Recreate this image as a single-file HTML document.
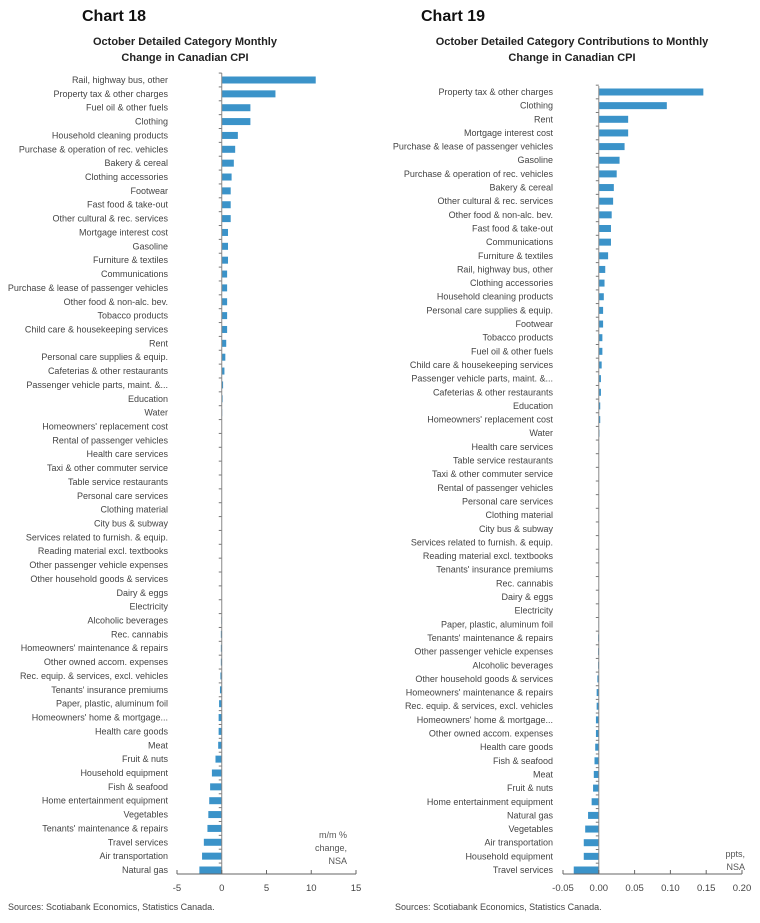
<!DOCTYPE html>
<html><head><meta charset="utf-8"><style>
html,body{margin:0;padding:0;background:#fff;}
svg{display:block;font-family:"Liberation Sans",sans-serif;}
</style></head><body>
<svg id="s" width="760" height="923" viewBox="0 0 760 923">
<text x="82" y="21" font-size="16" font-weight="bold" fill="#111">Chart 18</text>
<text x="185" y="45" font-size="11" font-weight="bold" text-anchor="middle" fill="#222">October Detailed Category Monthly</text>
<text x="185" y="61" font-size="11" font-weight="bold" text-anchor="middle" fill="#222">Change in Canadian CPI</text>
<text x="421" y="21" font-size="16" font-weight="bold" fill="#111">Chart 19</text>
<text x="572" y="45" font-size="11" font-weight="bold" text-anchor="middle" fill="#222">October Detailed Category Contributions to Monthly</text>
<text x="572" y="61" font-size="11" font-weight="bold" text-anchor="middle" fill="#222">Change in Canadian CPI</text>
<text x="347" y="838" font-size="9" text-anchor="end" fill="#555">m/m %</text>
<text x="347" y="851" font-size="9" text-anchor="end" fill="#555">change,</text>
<text x="347" y="864" font-size="9" text-anchor="end" fill="#555">NSA</text>
<text x="745" y="857" font-size="9" text-anchor="end" fill="#555">ppts,</text>
<text x="745" y="870" font-size="9" text-anchor="end" fill="#555">NSA</text>
<text x="8" y="910" font-size="9" fill="#444">Sources: Scotiabank Economics, Statistics Canada.</text>
<text x="395" y="910" font-size="9" fill="#444">Sources: Scotiabank Economics, Statistics Canada.</text>
</svg>
<script>
const cats18=["Rail, highway bus, other","Property tax & other charges","Fuel oil & other fuels","Clothing","Household cleaning products","Purchase & operation of rec. vehicles","Bakery & cereal","Clothing accessories","Footwear","Fast food & take-out","Other cultural & rec. services","Mortgage interest cost","Gasoline","Furniture & textiles","Communications","Purchase & lease of passenger vehicles","Other food & non-alc. bev.","Tobacco products","Child care & housekeeping services","Rent","Personal care supplies & equip.","Cafeterias & other restaurants","Passenger vehicle parts, maint. &...","Education","Water","Homeowners' replacement cost","Rental of passenger vehicles","Health care services","Taxi & other commuter service","Table service restaurants","Personal care services","Clothing material","City bus & subway","Services related to furnish. & equip.","Reading material excl. textbooks","Other passenger vehicle expenses","Other household goods & services","Dairy & eggs","Electricity","Alcoholic beverages","Rec. cannabis","Homeowners' maintenance & repairs","Other owned accom. expenses","Rec. equip. & services, excl. vehicles","Tenants' insurance premiums","Paper, plastic, aluminum foil","Homeowners' home & mortgage...","Health care goods","Meat","Fruit & nuts","Household equipment","Fish & seafood","Home entertainment equipment","Vegetables","Tenants' maintenance & repairs","Travel services","Air transportation","Natural gas"];
const vals18=[10.5,6.0,3.2,3.2,1.8,1.5,1.35,1.1,1.0,1.0,1.0,0.7,0.7,0.7,0.6,0.6,0.6,0.6,0.6,0.5,0.4,0.3,0.15,0.1,0.05,0.02,0.01,0.01,0.01,0.01,0,0,0,0,0,0,0,0,-0.02,-0.05,-0.1,-0.1,-0.1,-0.15,-0.2,-0.3,-0.35,-0.35,-0.4,-0.7,-1.1,-1.3,-1.4,-1.5,-1.6,-2.0,-2.2,-2.5];
const ticks18=[-5,0,5,10,15];
const cats19=["Property tax & other charges","Clothing","Rent","Mortgage interest cost","Purchase & lease of passenger vehicles","Gasoline","Purchase & operation of rec. vehicles","Bakery & cereal","Other cultural & rec. services","Other food & non-alc. bev.","Fast food & take-out","Communications","Furniture & textiles","Rail, highway bus, other","Clothing accessories","Household cleaning products","Personal care supplies & equip.","Footwear","Tobacco products","Fuel oil & other fuels","Child care & housekeeping services","Passenger vehicle parts, maint. &...","Cafeterias & other restaurants","Education","Homeowners' replacement cost","Water","Health care services","Table service restaurants","Taxi & other commuter service","Rental of passenger vehicles","Personal care services","Clothing material","City bus & subway","Services related to furnish. & equip.","Reading material excl. textbooks","Tenants' insurance premiums","Rec. cannabis","Dairy & eggs","Electricity","Paper, plastic, aluminum foil","Tenants' maintenance & repairs","Other passenger vehicle expenses","Alcoholic beverages","Other household goods & services","Homeowners' maintenance & repairs","Rec. equip. & services, excl. vehicles","Homeowners' home & mortgage...","Other owned accom. expenses","Health care goods","Fish & seafood","Meat","Fruit & nuts","Home entertainment equipment","Natural gas","Vegetables","Air transportation","Household equipment","Travel services"];
const vals19=[0.146,0.095,0.041,0.041,0.036,0.029,0.025,0.021,0.020,0.018,0.017,0.017,0.013,0.009,0.008,0.007,0.006,0.006,0.005,0.005,0.004,0.003,0.003,0.002,0.002,0.001,0.0005,0.0003,0.0002,0.0002,0.0001,0,0,0,0,0,0,0,0,-0.0005,-0.001,-0.001,-0.001,-0.002,-0.003,-0.003,-0.004,-0.004,-0.005,-0.006,-0.007,-0.008,-0.010,-0.015,-0.019,-0.021,-0.021,-0.035];
const ticks19=[-0.05,0,0.05,0.10,0.15,0.20];
const tickLabels19=["-0.05","0.00","0.05","0.10","0.15","0.20"];

const NS="http://www.w3.org/2000/svg";
const svg=document.getElementById('s');
function mk(tag,attrs,parent){const e=document.createElementNS(NS,tag);for(const k in attrs)e.setAttribute(k,attrs[k]);(parent||svg).appendChild(e);return e;}

function drawChart(id,cats,vals,ticks,tlabels,xMin,xMax,px0,px1,labelX,yFirst,yLast,axisY,topY){
  const g=mk('g',{});
  
  
  const xs=v=>px0+(v-xMin)/(xMax-xMin)*(px1-px0);
  const step=(yLast-yFirst)/(cats.length-1);
  const ys=i=>yFirst+i*step;
  const x0=xs(0);
  // bars and labels
  cats.forEach((c,i)=>{
    const v=vals[i];
    const y=ys(i);
    const lab=mk('text',{x:labelX,y:y+3,'font-size':'9','text-anchor':'end',fill:'#444'},g);
    lab.textContent=c;
    
    
    const a=xs(Math.min(0,v)),b=xs(Math.max(0,v));
    const r=mk('rect',{x:a,y:y-3.5,width:Math.max(0,b-a),height:7,fill:'#3b93c9'},g);
    
    
    const tk=mk('line',{x1:x0-3,x2:x0,y1:y-step/2,y2:y-step/2,stroke:'#777','stroke-width':'1'},g);
    
    
  });
  const zl=mk('line',{x1:x0,x2:x0,y1:topY,y2:axisY,stroke:'#888','stroke-width':'1'},g);
  
  
  const xl=mk('line',{x1:xs(ticks[0]),x2:xs(ticks[ticks.length-1]),y1:axisY,y2:axisY,stroke:'#666','stroke-width':'1'},g);
  
  
  ticks.forEach((t,i)=>{
    const x=xs(t);
    const tl=mk('line',{x1:x,x2:x,y1:axisY-4,y2:axisY,stroke:'#666','stroke-width':'1'},g);
    
    
    const tx=mk('text',{x:x,y:axisY+17,'font-size':'9.5','text-anchor':'middle',fill:'#444'},g);
    tx.textContent=tlabels[i];
    
    
  });
}
drawChart('chart-18',cats18,vals18,ticks18,ticks18.map(String),-5,15,177,356,168,80,870,874,73);
drawChart('chart-19',cats19,vals19,ticks19,tickLabels19,-0.05,0.20,563,742,553,92,870,874,86);
</script>
</body></html>
